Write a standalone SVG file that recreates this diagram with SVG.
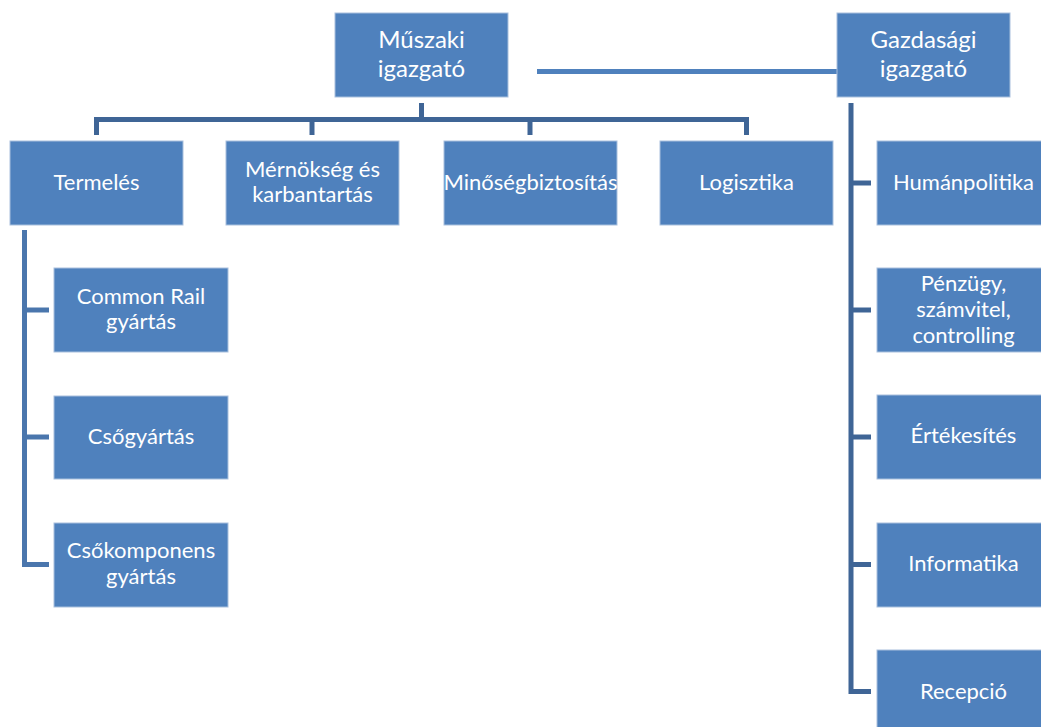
<svg xmlns="http://www.w3.org/2000/svg" width="1041" height="727" viewBox="0 0 1041 727">
<style>
.box{fill:#4F81BD;stroke:#A9C0DD;stroke-width:1}
.t{font-family:Lato,"Liberation Sans",sans-serif;font-size:22px;fill:#FFFFFF;text-anchor:middle}
.tt{font-size:24px}
.bar{fill:none;stroke:#3F6596;stroke-width:5;stroke-linejoin:miter;stroke-linecap:butt}
.bl{stroke:#4A76AD}
.lt{fill:none;stroke:#4F81BD;stroke-width:5}
</style>
<rect width="1041" height="727" fill="#FFFFFF"/>
<g id="connectors">
<path class="lt" d="M537,71.5 H837"/>
<path class="bar" d="M96.5,135 V119.5 H746.5 V135"/>
<path class="bar" d="M421.5,103 V119.5"/>
<path class="bar" d="M312,119.5 V135"/>
<path class="bar" d="M530,119.5 V135"/>
<path class="bar bl" d="M24.5,230 V564.5 H49"/>
<path class="bar bl" d="M24.5,310 H49"/>
<path class="bar bl" d="M24.5,437 H49"/>
<path class="bar" d="M851,103 V691.5 H871"/>
<path class="bar" d="M851,183 H871"/>
<path class="bar" d="M851,310 H871"/>
<path class="bar" d="M851,437 H871"/>
<path class="bar" d="M851,564.5 H871"/>
</g>
<g id="muszaki">
<rect class="box" x="335" y="13" width="173" height="84"/>
<text class="t tt" x="421.5" y="48">Műszaki</text>
<text class="t tt" x="421.5" y="77">igazgató</text>
</g>
<g id="gazdasagi">
<rect class="box" x="837" y="13" width="173" height="84"/>
<text class="t tt" x="923.5" y="48">Gazdasági</text>
<text class="t tt" x="923.5" y="77">igazgató</text>
</g>
<g id="termeles">
<rect class="box" x="10" y="141" width="173" height="84"/>
<text class="t" x="96.5" y="190">Termelés</text>
</g>
<g id="mernokseg">
<rect class="box" x="226" y="141" width="173" height="84"/>
<text class="t" x="312.5" y="177">Mérnökség és</text>
<text class="t" x="312.5" y="202">karbantartás</text>
</g>
<g id="minoseg">
<rect class="box" x="444" y="141" width="173" height="84"/>
<text class="t" x="530.5" y="190">Minőségbiztosítás</text>
</g>
<g id="logisztika">
<rect class="box" x="660" y="141" width="173" height="84"/>
<text class="t" x="746.5" y="190">Logisztika</text>
</g>
<g id="commonrail">
<rect class="box" x="54" y="268" width="174" height="84"/>
<text class="t" x="141" y="304">Common Rail</text>
<text class="t" x="141" y="329">gyártás</text>
</g>
<g id="csogyartas">
<rect class="box" x="54" y="396" width="174" height="83"/>
<text class="t" x="141" y="444">Csőgyártás</text>
</g>
<g id="csokomponens">
<rect class="box" x="54" y="523" width="174" height="84"/>
<text class="t" x="141" y="558">Csőkomponens</text>
<text class="t" x="141" y="584">gyártás</text>
</g>
<g id="humanpolitika">
<rect class="box" x="877" y="141" width="173" height="84"/>
<text class="t" x="963.5" y="190">Humánpolitika</text>
</g>
<g id="penzugy">
<rect class="box" x="877" y="268" width="173" height="84"/>
<text class="t" x="963.5" y="291">Pénzügy,</text>
<text class="t" x="963.5" y="317">számvitel,</text>
<text class="t" x="963.5" y="343">controlling</text>
</g>
<g id="ertekesites">
<rect class="box" x="877" y="395" width="173" height="84"/>
<text class="t" x="963.5" y="443">Értékesítés</text>
</g>
<g id="informatika">
<rect class="box" x="877" y="523" width="173" height="84"/>
<text class="t" x="963.5" y="571">Informatika</text>
</g>
<g id="recepcio">
<rect class="box" x="877" y="650" width="173" height="84"/>
<text class="t" x="963.5" y="699">Recepció</text>
</g>
</svg>
